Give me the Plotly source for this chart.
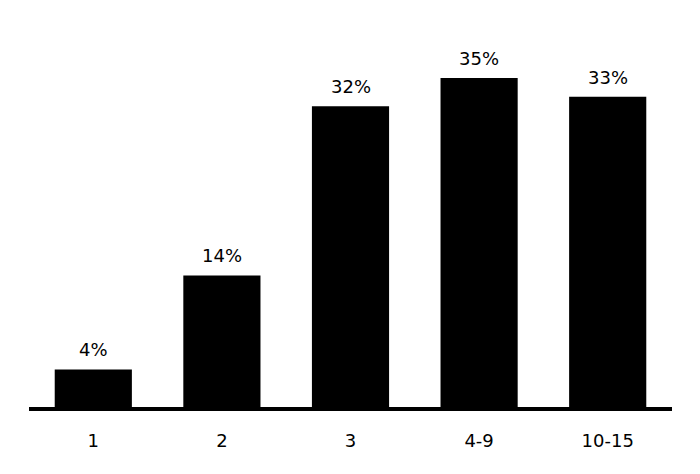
import plotly.graph_objects as go

categories = ["1", "2", "3", "4-9", "10-15"]
values = [4, 14, 32, 35, 33]
labels = [f"{v}%" for v in values]

FONT = "DejaVu Sans"

fig = go.Figure(go.Bar(
    x=categories,
    y=values,
    marker=dict(color="black", line=dict(width=0)),
    hoverinfo="skip",
))

# value labels sit a little above each bar (x given as category index)
for i, (val, lab) in enumerate(zip(values, labels)):
    fig.add_annotation(
        x=i, y=val, text=lab,
        showarrow=False, yanchor="bottom", yshift=7,
        font=dict(family=FONT, size=18, color="black"),
    )

fig.update_xaxes(
    type="category",
    showline=True, linecolor="black", linewidth=4,
    showgrid=False, ticks="", ticklabelstandoff=14,
    tickfont=dict(family=FONT, size=18, color="black"),
    automargin=False,
)
fig.update_yaxes(visible=False, range=[0, 40])

# page body has an 8px margin, so the figure is shrunk by that much
fig.update_layout(
    width=692, height=466,
    margin=dict(l=21, r=28, t=23, b=67),
    bargap=0.4,
    plot_bgcolor="white", paper_bgcolor="white",
    showlegend=False,
)

fig.write_html("out.html")
